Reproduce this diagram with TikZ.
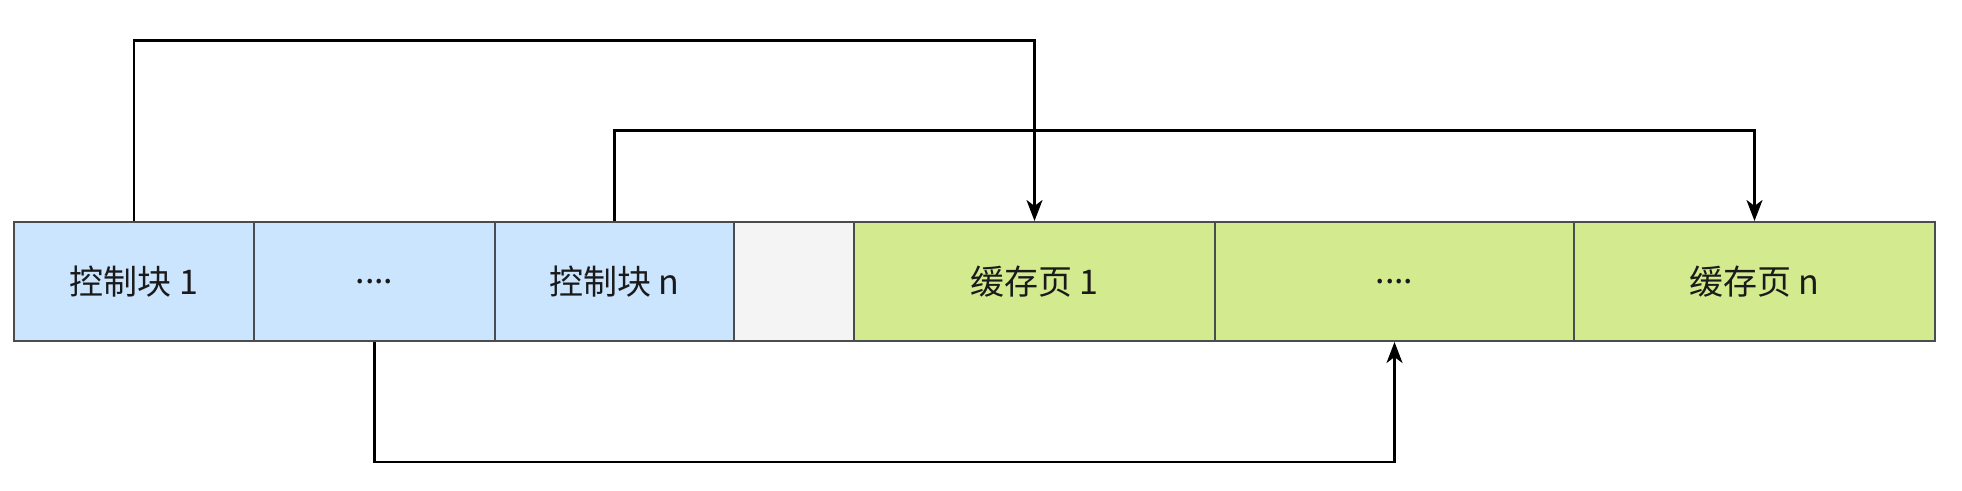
\documentclass[tikz,border=0pt]{standalone}
\usepackage{fontspec}
\newfontfamily\cjk{Noto Sans CJK SC}
\usetikzlibrary{arrows.meta}
\definecolor{cbfill}{HTML}{CCE5FF}
\definecolor{pgfill}{HTML}{D3EA8F}
\definecolor{gapfill}{HTML}{F4F4F4}
\definecolor{edge}{HTML}{4A4D50}
\definecolor{txt}{HTML}{1A1A1A}
\tikzset{
  x=1pt, y=1pt,
  cell/.style={draw=edge, line width=2pt, minimum height=119pt, inner sep=0pt,
    anchor=south west, text=txt, font=\cjk\fontsize{34}{38}\selectfont},
  cbcell/.style={cell, fill=cbfill},
  pgcell/.style={cell, fill=pgfill},
  gapcell/.style={cell, fill=gapfill},
  conn/.style={draw=black, line width=2.5pt, -{Stealth[length=21pt,width=16pt,inset=6pt]}}
}
\begin{document}
\begin{tikzpicture}
\useasboundingbox (0,0) rectangle (1962,490);
\node[cbcell, minimum width=240.5pt] (cb1) at (12.5,148) {控制块 1};
\node[cbcell, minimum width=241pt] (cbd) at (253,148) {....};
\node[cbcell, minimum width=239pt] (cbn) at (494,148) {控制块 n};
\node[gapcell, minimum width=120pt] (gap) at (733,148) {};
\node[pgcell, minimum width=361pt] (pg1) at (853,148) {缓存页 1};
\node[pgcell, minimum width=359pt] (pgd) at (1214,148) {....};
\node[pgcell, minimum width=361pt] (pgn) at (1573,148) {缓存页 n};
\draw[conn] (cb1.north) -- ++(0,180.5) -| (pg1.north);
\draw[conn] (cbn.north) -- ++(0,90.5) -| (pgn.north);
\draw[conn] (cbd.south) -- ++(0,-120) -| (pgd.south);
\end{tikzpicture}
\end{document}
